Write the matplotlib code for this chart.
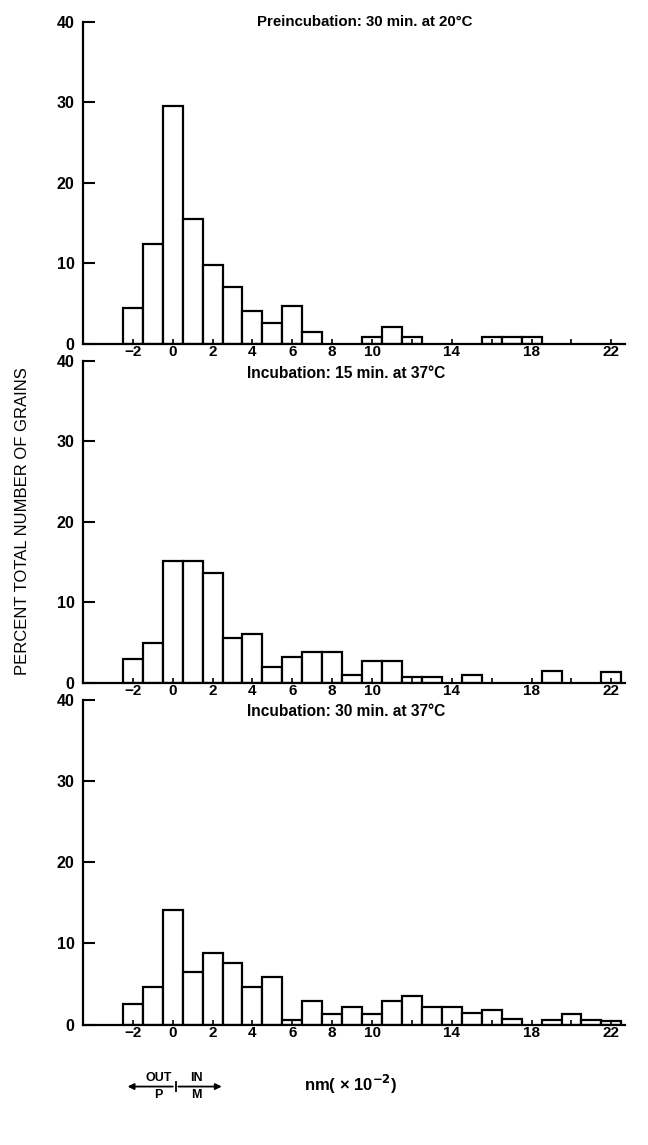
import matplotlib.pyplot as plt

plt.rcParams['font.family'] = ['Liberation Sans', 'DejaVu Sans']

# bin centres (nm x 10^-2) and percent of grains, one set per panel
pos_pre = [-2, -1, 0, 1, 2, 3, 4, 5, 6, 7, 10, 11, 12, 16, 17, 18]
pct_pre = [4.4, 12.4, 29.5, 15.5, 9.7, 7.0, 4.0, 2.5, 4.6, 1.4, 0.8, 2.0, 0.8, 0.8, 0.8, 0.8]

pos_15 = [-2, -1, 0, 1, 2, 3, 4, 5, 6, 7, 8, 9, 10, 11, 12, 13, 15, 19, 22]
pct_15 = [3.0, 5.0, 15.2, 15.2, 13.7, 5.6, 6.1, 2.0, 3.2, 3.9, 3.9, 1.0, 2.7, 2.7, 0.8, 0.8, 1.0, 1.5, 1.4]

pos_30 = [-2, -1, 0, 1, 2, 3, 4, 5, 6, 7, 8, 9, 10, 11, 12, 13, 14, 15, 16, 17, 19, 20, 21, 22]
pct_30 = [2.5, 4.6, 14.1, 6.5, 8.8, 7.6, 4.6, 5.9, 0.6, 2.9, 1.3, 2.2, 1.3, 2.9, 3.6, 2.2, 2.2, 1.4, 1.8, 0.7, 0.6, 1.3, 0.6, 0.5]

titulos = ['Preincubation: 30 min. at 20\u00b0C',
           'Incubation: 15 min. at 37\u00b0C',
           'Incubation: 30 min. at 37\u00b0C']

xticks = list(range(-2, 23, 2))
xlabels = ['\u22122', '0', '2', '4', '6', '8', '10', '', '14', '', '18', '', '22']
yticks = [0, 10, 20, 30, 40]

fig = plt.figure(figsize=(6.48, 11.45), dpi=100)

# posiciones de los paneles (fraccion de figura)
cajas = [[0.128, 0.700, 0.837, 0.281],
         [0.128, 0.4035, 0.837, 0.2815],
         [0.128, 0.105, 0.837, 0.284]]
datos = [(pos_pre, pct_pre), (pos_15, pct_15), (pos_30, pct_30)]

ejes = []
for i, (caja, (pos, pct), titulo) in enumerate(zip(cajas, datos, titulos)):
    ax = fig.add_axes(caja)
    ax.bar(pos, pct, width=1.0, color='white', edgecolor='black', linewidth=1.6)
    ax.set_xlim(-4.5, 22.7)
    ax.set_ylim(0, 40)
    ax.spines['top'].set_visible(False)
    ax.spines['right'].set_visible(False)
    ax.spines['left'].set_linewidth(1.6)
    ax.spines['bottom'].set_linewidth(1.6)
    ax.set_yticks(yticks)
    ax.set_yticklabels([str(v) for v in yticks], fontsize=11.5, fontweight='bold')
    ax.set_xticks(xticks)
    ax.set_xticklabels(xlabels, fontsize=11, fontweight='bold')
    ax.tick_params(axis='y', direction='in', length=8.5, width=1.5, pad=6)
    ax.tick_params(axis='x', direction='in', length=3.5, width=1.2, pad=1)
    if i == 0:
        ax.text(0.52, 1.0, titulo, transform=ax.transAxes, ha='center', va='center',
                fontsize=10.8, fontweight='bold')
    else:
        ax.text(0.485, 0.985, titulo, transform=ax.transAxes, ha='center', va='top',
                fontsize=11.2, fontweight='bold')
    ejes.append(ax)

fig.text(0.035, 0.545, 'PERCENT TOTAL NUMBER OF GRAINS', rotation=90,
         ha='center', va='center', fontsize=12)

# flecha OUT / IN debajo del ultimo panel
ax = ejes[-1]
tr = ax.get_xaxis_transform()
ya = -0.19
ax.annotate('', xy=(-2.4, ya), xytext=(0.15, ya), xycoords=tr, textcoords=tr,
            arrowprops=dict(arrowstyle='-|>', color='black', lw=1.3, mutation_scale=9))
ax.annotate('', xy=(2.6, ya), xytext=(0.15, ya), xycoords=tr, textcoords=tr,
            arrowprops=dict(arrowstyle='-|>', color='black', lw=1.3, mutation_scale=9))
ax.plot([0.15, 0.15], [ya - 0.013, ya + 0.015], transform=tr, color='black', lw=1.3, clip_on=False)
ax.text(-0.7, ya + 0.007, 'OUT', transform=tr, ha='center', va='bottom', fontsize=9, fontweight='bold')
ax.text(1.2, ya + 0.007, 'IN', transform=tr, ha='center', va='bottom', fontsize=9, fontweight='bold')
ax.text(-0.7, ya - 0.007, 'P', transform=tr, ha='center', va='top', fontsize=9, fontweight='bold')
ax.text(1.2, ya - 0.007, 'M', transform=tr, ha='center', va='top', fontsize=9, fontweight='bold')
ax.text(6.6, ya + 0.005, 'nm( \u00d7 10$^{\\mathbf{-2}}$)', transform=tr, ha='left', va='center',
        fontsize=12, fontweight='bold')

fig.savefig('out.png', dpi=100)
